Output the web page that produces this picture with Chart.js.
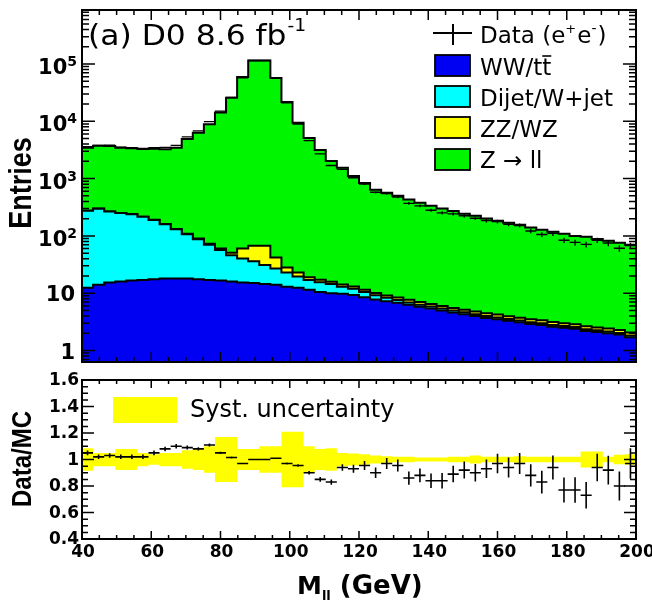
<!DOCTYPE html>
<html>
<head>
<meta charset="utf-8">
<title>D0 dielectron mass</title>
<script src="https://cdn.jsdelivr.net/npm/chart.js@4.4.0/dist/chart.umd.min.js"></script>
<style>
  html, body { margin: 0; padding: 0; background: #fff; }
  #wrap { position: relative; width: 652px; height: 604px; overflow: hidden; }
  #top-chart { position: absolute; left: 0; top: 0; }
  #ratio-chart { position: absolute; left: 0; top: 372px; }
</style>
</head>
<body>
<div id="wrap">
  <canvas id="top-chart" width="652" height="372"></canvas>
  <canvas id="ratio-chart" width="652" height="232"></canvas>
</div>
<script>
// bin edges in GeV (50 bins of 3.2 GeV)
const binEdges = [40, 43.2, 46.4, 49.6, 52.8, 56, 59.2, 62.4, 65.6, 68.8, 72, 75.2, 78.4, 81.6, 84.8,
  88, 91.2, 94.4, 97.6, 100.8, 104, 107.2, 110.4, 113.6, 116.8, 120, 123.2, 126.4, 129.6, 132.8,
  136, 139.2, 142.4, 145.6, 148.8, 152, 155.2, 158.4, 161.6, 164.8, 168, 171.2, 174.4, 177.6,
  180.8, 184, 187.2, 190.4, 193.6, 196.8, 200];

// background predictions, entries per bin
const wwTt = [12.5, 14, 15.3, 16, 16.6, 17, 17.5, 18, 18, 18, 17.5, 17, 16.6, 16, 15.3, 15, 14.5, 14, 13, 12.5,
  11.5, 10.5, 10, 9.8, 9.3, 8.5, 7.8, 7.2, 6.8, 6.3, 5.8, 5.4, 5.0, 4.6, 4.3, 4.0, 3.7, 3.5, 3.3, 3.1,
  2.9, 2.8, 2.6, 2.5, 2.4, 2.2, 2.1, 2.0, 1.9, 1.7];
const dijetWjet = [262, 284, 250, 234, 223, 198, 172, 142, 112, 89, 70, 53, 40, 30, 25, 21, 16.5, 13, 10, 7,
  5.5, 5, 4.5, 3.2, 2.7, 2, 1.4, 1.1, 0.8, 0.6, 0.5, 0.45, 0.4, 0.38, 0.35, 0.3, 0.3, 0.28, 0.25, 0.24,
  0.22, 0.2, 0.2, 0.18, 0.17, 0.16, 0.15, 0.14, 0.13, 0.12];
const zzWz = [1.2, 1.2, 1.3, 1.3, 1.4, 1.4, 1.5, 1.6, 1.7, 1.9, 2.2, 2.8, 3.5, 5, 20, 31, 36, 15, 5, 3.5,
  2, 1.6, 1.4, 1.2, 1.1, 1.0, 0.9, 0.85, 0.8, 0.75, 0.7, 0.65, 0.6, 0.55, 0.5, 0.5, 0.45, 0.45, 0.4, 0.4,
  0.38, 0.36, 0.34, 0.32, 0.3, 0.3, 0.28, 0.27, 0.26, 0.25];
const zll = [3160, 3430, 3430, 3200, 3160, 3080, 3110, 3090, 3320, 4790, 6210, 8830, 14240, 25750, 58940,
  114930, 114930, 56960, 21670, 9380, 5080, 3150, 2020, 1530, 1100, 830, 630, 556, 492, 422, 373, 328,
  294, 266, 238, 220, 196, 180, 166, 153, 136, 125, 115, 106, 97, 94, 86, 80, 74, 68];

// observed events and their uncertainties
const dataCounts = [3612, 3805, 3811, 3519, 3468, 3366, 3465, 3510, 3795, 5341, 6804, 9879, 15015, 26187,
  57230, 115000, 115000, 57570, 21049, 8977, 4590, 2695, 1693, 1448, 1032, 802, 576, 548, 478, 370, 334,
  281, 252, 242, 224, 203, 186, 178, 160, 152, 122, 106, 111, 84, 77, 71, 84, 75, 61, 68];
const dataErr = [60, 62, 62, 59, 59, 58, 59, 59, 62, 73, 82, 99, 123, 162, 239, 339, 339, 240, 145, 95,
  68, 52, 41, 38, 32, 28, 24, 23, 22, 19, 18, 17, 16, 16, 15, 14, 14, 13, 13, 12, 11, 10, 11, 9, 9, 8, 9,
  9, 8, 8];

// data / MC ratio, its statistical error and the systematic band half-width
const ratio = [1.05, 1.02, 1.03, 1.02, 1.02, 1.02, 1.05, 1.08, 1.10, 1.09, 1.08, 1.11, 1.05, 1.015, 0.97,
  1.0, 1.0, 1.01, 0.97, 0.955, 0.9, 0.85, 0.83, 0.94, 0.93, 0.955, 0.9, 0.97, 0.955, 0.86, 0.88, 0.84,
  0.84, 0.89, 0.92, 0.9, 0.93, 0.97, 0.94, 0.97, 0.88, 0.83, 0.94, 0.77, 0.77, 0.73, 0.94, 0.92, 0.8, 0.97];
const ratioErr = [0.017, 0.017, 0.017, 0.017, 0.017, 0.017, 0.017, 0.017, 0.017, 0.015, 0.013, 0.011,
  0.009, 0.007, 0.005, 0.003, 0.003, 0.005, 0.007, 0.01, 0.014, 0.017, 0.02, 0.025, 0.03, 0.034, 0.04,
  0.042, 0.045, 0.05, 0.052, 0.055, 0.058, 0.062, 0.064, 0.066, 0.07, 0.073, 0.076, 0.08, 0.084, 0.086,
  0.09, 0.094, 0.096, 0.1, 0.104, 0.108, 0.11, 0.115];
const systErr = [0.085, 0.05, 0.05, 0.08, 0.08, 0.05, 0.04, 0.05, 0.05, 0.07, 0.08, 0.1, 0.17, 0.17, 0.08,
  0.08, 0.1, 0.1, 0.21, 0.21, 0.1, 0.08, 0.085, 0.05, 0.045, 0.04, 0.03, 0.025, 0.02, 0.02, 0.015, 0.015,
  0.015, 0.02, 0.02, 0.03, 0.02, 0.02, 0.02, 0.025, 0.02, 0.02, 0.02, 0.02, 0.02, 0.06, 0.06, 0.02, 0.035,
  0.04];

const BLUE = '#0000f2';
const CYAN = '#00ffff';
const YELLOW = '#ffff00';
const GREEN = '#00f500';
const WIDE = '"DejaVu Sans", sans-serif';
const NARROW = '"Liberation Sans", Arial, sans-serif';

// histogram outline: one point per left edge plus the closing right edge
function stepPoints(values) {
  const pts = values.map((v, i) => ({ x: binEdges[i], y: v }));
  pts.push({ x: binEdges[values.length], y: values[values.length - 1] });
  return pts;
}

function centers(values) {
  return values.map((v, i) => ({ x: (binEdges[i] + binEdges[i + 1]) / 2, y: v }));
}

// cumulative stack tops, bottom to top
const stackWw = wwTt.slice();
const stackDijet = stackWw.map((v, i) => v + dijetWjet[i]);
const stackZz = stackDijet.map((v, i) => v + zzWz[i]);
const stackZll = stackZz.map((v, i) => v + zll[i]);

function txt(ctx, str, x, y, px, bold, align, family) {
  ctx.font = (bold ? 'bold ' : '') + px + 'px ' + (family || WIDE);
  ctx.textAlign = align || 'left';
  ctx.fillText(str, x, y);
  return ctx.measureText(str).width;
}

// text squeezed or widened horizontally around its left end
function wideTxt(ctx, str, x, y, px, bold, sx) {
  ctx.save();
  ctx.translate(x, y);
  ctx.scale(sx, 1);
  const w = txt(ctx, str, 0, 0, px, bold);
  ctx.restore();
  return w * sx;
}

function rotatedTitle(ctx, str, cx, cy, px, thick) {
  ctx.save();
  ctx.translate(cx, cy);
  ctx.rotate(-Math.PI / 2);
  ctx.scale(1, thick);
  ctx.font = 'bold ' + px + 'px ' + NARROW;
  ctx.textAlign = 'center';
  ctx.textBaseline = 'middle';
  ctx.fillText(str, 0, 0);
  ctx.restore();
}

// horizontal bin-width bars and vertical error bars for data points
const errorBars = {
  id: 'errorBars',
  afterDatasetsDraw(chart) {
    const { ctx, chartArea: a, scales: { x, y } } = chart;
    chart.data.datasets.forEach((ds, di) => {
      if (!ds.errY) return;
      const meta = chart.getDatasetMeta(di);
      ctx.save();
      ctx.beginPath();
      ctx.rect(a.left, a.top, a.right - a.left, a.bottom - a.top);
      ctx.clip();
      ctx.strokeStyle = '#000';
      ctx.lineWidth = ds.errWidth;
      ctx.beginPath();
      meta.data.forEach((pt, i) => {
        const v = ds.data[i].y;
        const x0 = x.getPixelForValue(binEdges[i]);
        const x1 = x.getPixelForValue(binEdges[i + 1]);
        ctx.moveTo(x0, pt.y);
        ctx.lineTo(x1, pt.y);
        ctx.moveTo(pt.x, y.getPixelForValue(v - ds.errY[i]));
        ctx.lineTo(pt.x, y.getPixelForValue(v + ds.errY[i]));
      });
      ctx.stroke();
      ctx.restore();
    });
  }
};

function xTicks(ctx, x, a, major, minor) {
  for (let g = 40; g <= 200; g += 5) {
    const px = x.getPixelForValue(g);
    const len = g % 20 === 0 ? major : minor;
    ctx.moveTo(px, a.bottom);
    ctx.lineTo(px, a.bottom - len);
    ctx.moveTo(px, a.top);
    ctx.lineTo(px, a.top + len);
  }
}

// frame, ticks, axis labels and legend of the upper panel
const topDecor = {
  id: 'topDecor',
  afterDraw(chart) {
    const { ctx, chartArea: a, scales: { x, y } } = chart;
    ctx.save();
    ctx.strokeStyle = '#000';
    ctx.fillStyle = '#000';
    ctx.lineWidth = 1.5;
    ctx.beginPath();
    xTicks(ctx, x, a, 10, 5);
    for (let d = -1; d <= 5; d++) {
      for (let m = 1; m <= 9; m++) {
        const v = m * Math.pow(10, d);
        if (v < y.min || v > y.max) continue;
        const py = y.getPixelForValue(v);
        const len = m === 1 ? 13 : 7;
        ctx.moveTo(a.left, py);
        ctx.lineTo(a.left + len, py);
        ctx.moveTo(a.right, py);
        ctx.lineTo(a.right - len, py);
      }
    }
    ctx.stroke();
    ctx.lineWidth = 2;
    ctx.strokeRect(a.left, a.top, a.right - a.left, a.bottom - a.top);

    // decade labels
    ctx.textBaseline = 'alphabetic';
    for (let k = 0; k <= 5; k++) {
      const py = y.getPixelForValue(Math.pow(10, k));
      if (k < 2) {
        txt(ctx, k === 0 ? '1' : '10', 75, py + 8, 21, true, 'right');
      } else {
        ctx.font = 'bold 14px ' + WIDE;
        const sw = ctx.measureText(String(k)).width;
        txt(ctx, String(k), 77, py + 2, 14, true, 'right');
        txt(ctx, '10', 77 - sw, py + 10, 21, true, 'right');
      }
    }
    rotatedTitle(ctx, 'Entries', 22, 183, 27, 1.15);

    // experiment label
    const w = wideTxt(ctx, '(a) D0 8.6 fb', 88, 45, 28, false, 1.12);
    wideTxt(ctx, '-1', 88 + w + 1, 31, 17, false, 1.1);

    // legend
    ctx.lineWidth = 2;
    ctx.beginPath();
    ctx.moveTo(433, 33);
    ctx.lineTo(472, 33);
    ctx.moveTo(453, 24);
    ctx.lineTo(453, 45);
    ctx.stroke();
    let cx = 480;
    cx += txt(ctx, 'Data (e', cx, 43, 23);
    cx += txt(ctx, '+', cx, 33, 13) + 1;
    cx += txt(ctx, 'e', cx, 43, 23);
    cx += txt(ctx, '-', cx, 33, 14) + 1;
    txt(ctx, ')', cx, 43, 23);

    const boxes = [
      { color: BLUE, top: 55 },
      { color: CYAN, top: 86 },
      { color: YELLOW, top: 117 },
      { color: GREEN, top: 149 }
    ];
    boxes.forEach(b => {
      ctx.fillStyle = b.color;
      ctx.fillRect(435, b.top, 35, 21);
      ctx.lineWidth = 1.8;
      ctx.strokeRect(435, b.top, 35, 21);
    });
    ctx.fillStyle = '#000';
    const wPre = txt(ctx, 'WW/tt', 480, 75, 23);
    ctx.font = '23px ' + WIDE;
    const wT = ctx.measureText('t').width;
    ctx.lineWidth = 1.6;
    ctx.beginPath();
    ctx.moveTo(480 + wPre - wT, 56);
    ctx.lineTo(480 + wPre, 56);
    ctx.stroke();
    txt(ctx, 'Dijet/W+jet', 480, 106, 23);
    txt(ctx, 'ZZ/WZ', 480, 137, 23);
    txt(ctx, 'Z \u2192 ll', 480, 168, 23);
    ctx.restore();
  }
};

// frame, ticks, labels and band legend of the ratio panel
const ratioDecor = {
  id: 'ratioDecor',
  afterDraw(chart) {
    const { ctx, chartArea: a, scales: { x, y } } = chart;
    ctx.save();
    ctx.strokeStyle = '#000';
    ctx.fillStyle = '#000';
    ctx.lineWidth = 1.5;
    ctx.beginPath();
    xTicks(ctx, x, a, 8, 4);
    for (let i = 0; i <= 24; i++) {
      const v = 0.4 + i * 0.05;
      const py = y.getPixelForValue(v);
      const len = i % 4 === 0 ? 12 : 6;
      ctx.moveTo(a.left, py);
      ctx.lineTo(a.left + len, py);
      ctx.moveTo(a.right, py);
      ctx.lineTo(a.right - len, py);
    }
    ctx.stroke();
    ctx.lineWidth = 2;
    ctx.strokeRect(a.left, a.top, a.right - a.left, a.bottom - a.top);

    ctx.textBaseline = 'middle';
    ['0.4', '0.6', '0.8', '1', '1.2', '1.4', '1.6'].forEach((lab, i) => {
      txt(ctx, lab, 79, y.getPixelForValue(0.4 + i * 0.2) + 1, 17, true, 'right');
    });
    ctx.textBaseline = 'alphabetic';
    for (let g = 40; g <= 200; g += 20) {
      txt(ctx, String(g), x.getPixelForValue(g) + 1, 185, 17, true, 'center');
    }
    let tx = 297;
    tx += txt(ctx, 'M', tx, 222, 25, true);
    tx += txt(ctx, 'll', tx, 228, 13, true);
    txt(ctx, ' (GeV)', tx, 222, 26, true);
    rotatedTitle(ctx, 'Data/MC', 23, 87, 24, 1.15);

    ctx.fillStyle = YELLOW;
    ctx.fillRect(113, 25, 64, 26);
    ctx.fillStyle = '#000';
    txt(ctx, 'Syst. uncertainty', 190, 45, 24);
    ctx.restore();
  }
};

const lineBase = { stepped: true, pointRadius: 0, borderColor: '#000', borderWidth: 2, fill: 'start' };

new Chart(document.getElementById('top-chart'), {
  type: 'line',
  data: {
    datasets: [
      Object.assign({ label: 'WW/tt', data: stepPoints(stackWw), backgroundColor: BLUE }, lineBase),
      Object.assign({ label: 'Dijet/W+jet', data: stepPoints(stackDijet), backgroundColor: CYAN }, lineBase),
      Object.assign({ label: 'ZZ/WZ', data: stepPoints(stackZz), backgroundColor: YELLOW }, lineBase),
      Object.assign({ label: 'Z -> ll', data: stepPoints(stackZll), backgroundColor: GREEN }, lineBase),
      { label: 'Data', data: centers(dataCounts), errY: dataErr, errWidth: 1.4,
        showLine: false, pointRadius: 0, fill: false }
    ]
  },
  options: {
    responsive: false,
    animation: false,
    events: [],
    layout: { padding: { left: 82, right: 16, top: 10, bottom: 10 } },
    plugins: { legend: { display: false }, tooltip: { enabled: false } },
    scales: {
      x: { type: 'linear', min: 40, max: 200, display: false, bounds: 'data' },
      y: { type: 'logarithmic', min: 0.63, max: 875000, display: false, bounds: 'data' }
    }
  },
  plugins: [errorBars, topDecor]
});

const bandUp = stepPoints(systErr.map(e => 1 + e));
const bandDown = stepPoints(systErr.map(e => 1 - e));

new Chart(document.getElementById('ratio-chart'), {
  type: 'line',
  data: {
    datasets: [
      { label: 'Data/MC', data: centers(ratio), errY: ratioErr, errWidth: 1.6,
        showLine: false, pointRadius: 0, fill: false },
      { label: 'Syst. uncertainty', data: bandUp, stepped: true, pointRadius: 0,
        borderWidth: 0.01, borderColor: 'rgba(0,0,0,0)', backgroundColor: YELLOW, fill: '+1' },
      { label: 'band low', data: bandDown, stepped: true, pointRadius: 0,
        borderWidth: 0.01, borderColor: 'rgba(0,0,0,0)', fill: false }
    ]
  },
  options: {
    responsive: false,
    animation: false,
    events: [],
    layout: { padding: { left: 82, right: 16, top: 8, bottom: 65 } },
    plugins: { legend: { display: false }, tooltip: { enabled: false } },
    scales: {
      x: { type: 'linear', min: 40, max: 200, display: false, bounds: 'data' },
      y: { type: 'linear', min: 0.4, max: 1.6, display: false, bounds: 'data' }
    }
  },
  plugins: [errorBars, ratioDecor]
});
</script>
</body>
</html>
